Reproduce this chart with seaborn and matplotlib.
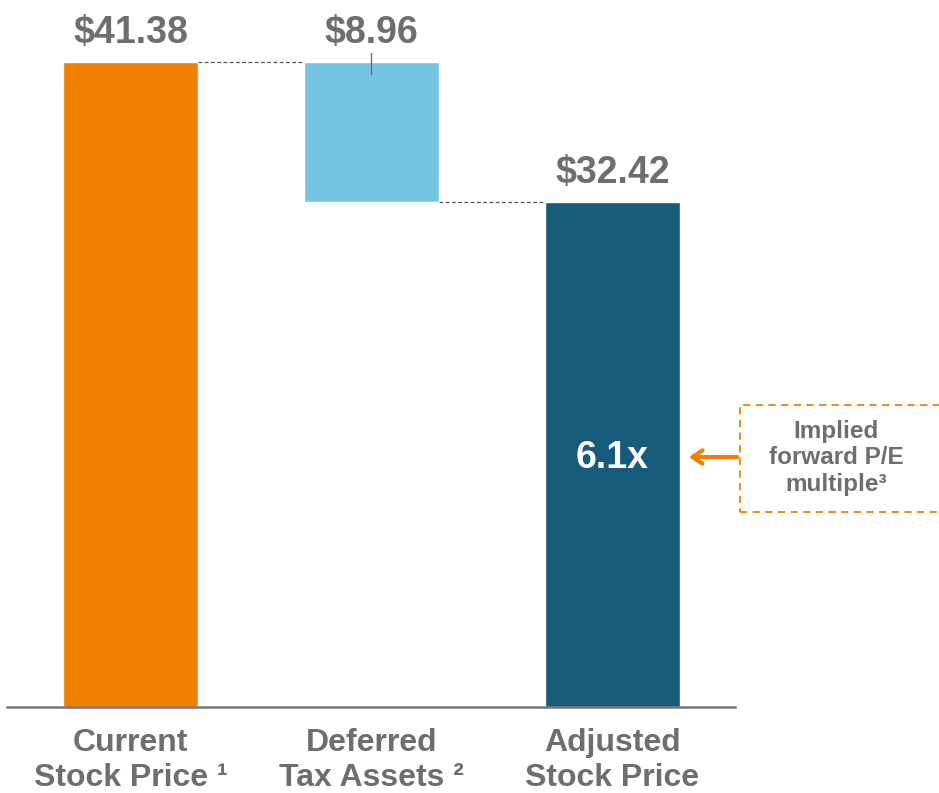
import pandas as pd
import matplotlib
matplotlib.use("Agg")
import matplotlib.pyplot as plt
import matplotlib.patches as patches
import seaborn as sns

# --- data ---
categories = ["Current\nStock Price \u00b9", "Deferred\nTax Assets \u00b2", "Adjusted\nStock Price"]
current_price = 41.38
deferred_tax = 8.96
adjusted_price = 32.42
value_labels = ["$41.38", "$8.96", "$32.42"]
pe_multiple = "6.1x"
note_text = "Implied\nforward P/E\nmultiple\u00b3"

spans = [current_price, deferred_tax, adjusted_price]
bottoms = [0.0, current_price - deferred_tax, 0.0]
tops = [b + s for b, s in zip(bottoms, spans)]

COLORS = ["#F28000", "#74C3E3", "#165B7A"]
GRAY = "#6E6E6E"

df = pd.DataFrame({"cat": categories, "span": spans, "bottom": bottoms, "top": tops})

sns.set_theme(style="white")
plt.rcParams["font.family"] = ["Liberation Sans", "DejaVu Sans"]

fig = plt.figure(figsize=(9.39, 7.93), dpi=100)
ax = fig.add_axes([7 / 939, 86 / 793, 728 / 939, 707 / 793])

sns.barplot(data=df, x="cat", y="span", hue="cat", palette=COLORS,
            width=0.56, saturation=1, legend=False, ax=ax)

# float the bars to their bottoms
for patch, b in zip(ax.patches, df["bottom"]):
    patch.set_y(b)

ax.set_xlim(-0.512, 2.508)
ax.set_ylim(0, 45.35)

half = 0.28
# dashed connectors between bars
ax.plot([0 + half, 1 - half], [df["top"][0]] * 2, ls=(0, (3, 2)), color="#555555", lw=0.9)
ax.plot([1 + half, 2 - half], [df["bottom"][1]] * 2, ls=(0, (3, 2)), color="#555555", lw=0.9)

# value labels
for i, (lab, top) in enumerate(zip(value_labels, df["top"])):
    ax.text(i, top + 1.2, lab, ha="center", va="baseline", fontsize=27,
            fontweight="bold", color=GRAY)

# small leader tick on the deferred tax bar
ax.plot([1, 1], [df["top"][1] + 0.55, df["top"][1] - 0.8], color=GRAY, lw=1)

# multiple inside the adjusted bar
ax.text(2, 16.0, pe_multiple, ha="center", va="center", fontsize=27,
        fontweight="bold", color="white")

# axes styling
for s in ["top", "right", "left"]:
    ax.spines[s].set_visible(False)
ax.spines["bottom"].set_color("#777777")
ax.spines["bottom"].set_linewidth(1.8)
ax.set_yticks([])
ax.set_xlabel(None)
ax.set_ylabel(None)
ax.set_xticks(range(len(categories)))
ax.set_xticklabels(categories, fontsize=23, fontweight="bold", color=GRAY,
                   linespacing=1.24)
ax.tick_params(axis="x", length=0, pad=15)

# annotation box + arrow
box = patches.Rectangle((740, 793 - 512), 260, 107, transform=None,
                        fill=False, edgecolor="#F28000", lw=1.3,
                        ls=(0, (4, 3)), clip_on=False)
fig.add_artist(box)
fig.text(836 / 939, 1 - 458 / 793, note_text, ha="center", va="center",
         fontsize=17.5, fontweight="bold", color=GRAY, linespacing=1.2)
ax.annotate("", xy=(686, 793 - 457), xycoords="figure pixels",
            xytext=(740, 793 - 457), textcoords="figure pixels",
            arrowprops=dict(arrowstyle="->,head_length=0.6,head_width=0.4",
                            color="#F28000", lw=3))

fig.savefig("out.png", dpi=100)
